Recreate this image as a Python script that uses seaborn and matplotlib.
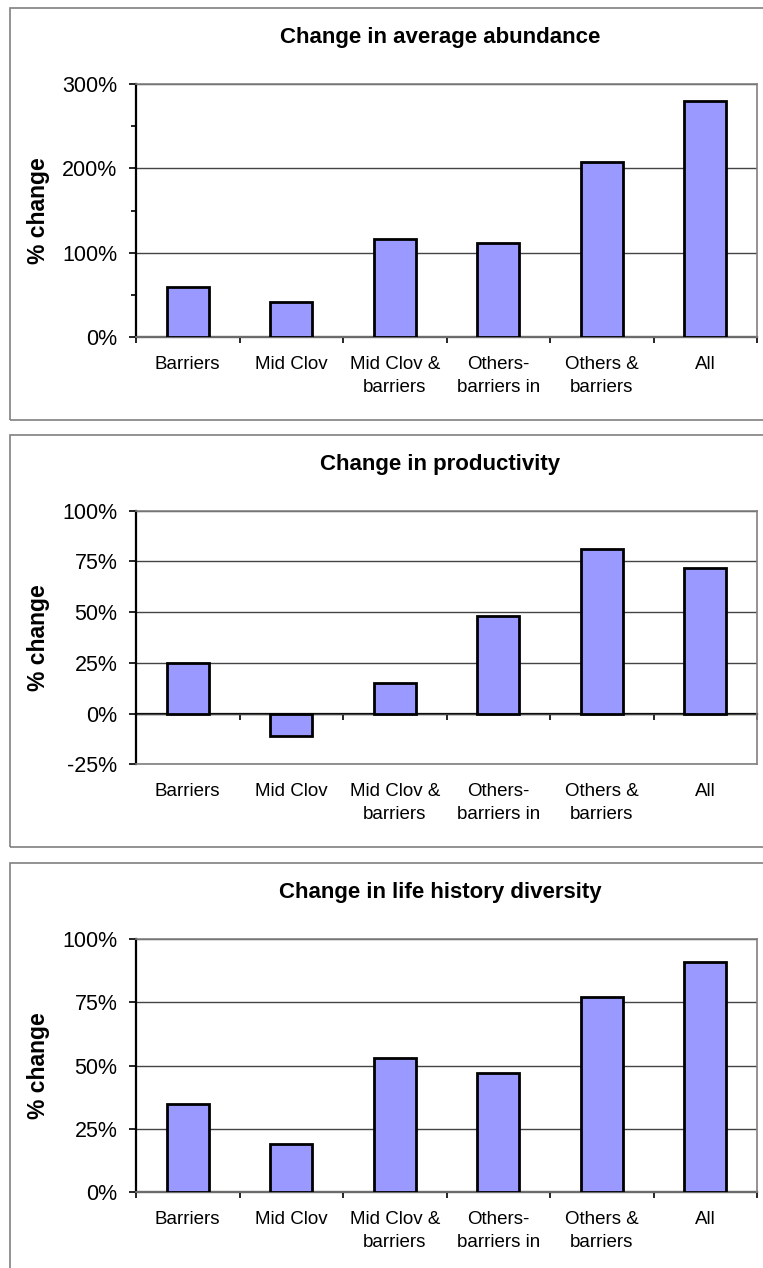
import numpy as np
import pandas as pd
import matplotlib
matplotlib.use("Agg")
import matplotlib.pyplot as plt
from matplotlib.patches import Rectangle
from matplotlib.ticker import MultipleLocator, FuncFormatter
import seaborn as sns

# Restoration scenarios and the modelled % change for each population metric
scenarios = ["Barriers", "Mid Clov", "Mid Clov &\nbarriers",
             "Others-\nbarriers in", "Others &\nbarriers", "All"]
abundance_change = [59, 41, 116, 112, 208, 280]
productivity_change = [25, -11, 15, 48, 81, 72]
diversity_change = [35, 19, 53, 47, 77, 91]

panel_titles = ["Change in average abundance",
                "Change in productivity",
                "Change in life history diversity"]
panel_values = [abundance_change, productivity_change, diversity_change]
y_limits = [(0, 300), (-25, 100), (0, 100)]
y_major_steps = [100, 25, 25]
y_minor_steps = [50, None, None]

W, H = 763, 1268
DPI = 100
BAR_COLOR = "#9999FF"
GRID_COLOR = "#444444"
FRAME_COLOR = "#808080"

sns.set_style("white")
plt.rcParams["font.family"] = ["Liberation Sans", "DejaVu Sans"]
plt.rcParams.update({"text.color": "black", "axes.labelcolor": "black",
                     "xtick.color": "black", "ytick.color": "black"})

fig = plt.figure(figsize=(W / DPI, H / DPI), dpi=DPI)
fig.patch.set_facecolor("white")

# plot-area boxes in pixels: (left, top, right, bottom)
plot_boxes = [(136, 84, 757, 337),
              (136, 510.7, 757, 764.3),
              (136, 939, 757, 1192.3)]
# outer chart frames in pixels: (left, top, right, bottom)
chart_frames = [(10, 8, 775, 420),
                (10, 435, 775, 847),
                (10, 863, 775, 1290)]


def px_to_fig(left, top, right, bottom):
    return [left / W, 1 - bottom / H, (right - left) / W, (bottom - top) / H]


for (fl, ft, fr, fb) in chart_frames:
    fig.patches.append(Rectangle((fl / W, 1 - fb / H), (fr - fl) / W, (fb - ft) / H,
                                 transform=fig.transFigure, fill=False,
                                 edgecolor=FRAME_COLOR, linewidth=1.2))

for i in range(3):
    ax = fig.add_axes(px_to_fig(*plot_boxes[i]))
    df = pd.DataFrame({"scenario": scenarios, "change": panel_values[i]})
    sns.barplot(data=df, x="scenario", y="change", ax=ax, color=BAR_COLOR,
                saturation=1, edgecolor="black", linewidth=2, width=0.41, zorder=3)

    ymin, ymax = y_limits[i]
    ax.set_ylim(ymin, ymax)
    ax.set_xlim(-0.5, len(scenarios) - 0.5)
    ax.yaxis.set_major_locator(MultipleLocator(y_major_steps[i]))
    if y_minor_steps[i]:
        ax.yaxis.set_minor_locator(MultipleLocator(y_minor_steps[i]))
    ax.yaxis.set_major_formatter(FuncFormatter(lambda v, p: f"{v:.0f}%"))

    ax.set_axisbelow(True)
    ax.yaxis.grid(True, which="major", color=GRID_COLOR, linewidth=1.0)
    ax.xaxis.grid(False)

    ax.tick_params(axis="y", which="major", direction="out", length=5, width=1.2,
                   color="black", pad=8.5, labelsize=15.5, left=True)
    ax.tick_params(axis="y", which="minor", direction="out", length=3.5, width=1.2,
                   color="black", left=True)
    ax.tick_params(axis="x", length=0, pad=13.5, labelsize=13.5)
    for lbl in ax.get_xticklabels():
        lbl.set_linespacing(1.45)

    for side in ("top", "right", "bottom"):
        ax.spines[side].set_visible(True)
        ax.spines[side].set_color(FRAME_COLOR)
        ax.spines[side].set_linewidth(1.2)
    ax.spines["left"].set_color("black")
    ax.spines["left"].set_linewidth(1.6)

    ax.set_xlabel("")
    ax.set_ylabel("% change", fontsize=16.5, fontweight="bold")
    ax.yaxis.set_label_coords(-0.138, 0.5)

    # category axis running along the zero line, with ticks between categories
    zero_frac = (0 - ymin) / (ymax - ymin)
    sec = ax.secondary_xaxis(zero_frac)
    sec.set_xticks(np.arange(-0.5, len(scenarios), 1.0))
    sec.set_xticklabels([])
    sec.tick_params(direction="out", length=4, width=1.2, color="black")
    sec.spines["bottom"].set_color("black")
    sec.spines["bottom"].set_linewidth(1.6)

    ax.text(0.4895, 1 + 41 / 253, panel_titles[i], transform=ax.transAxes,
            ha="center", va="baseline", fontsize=16, fontweight="bold")

fig.savefig("out.png", dpi=DPI, facecolor="white")
